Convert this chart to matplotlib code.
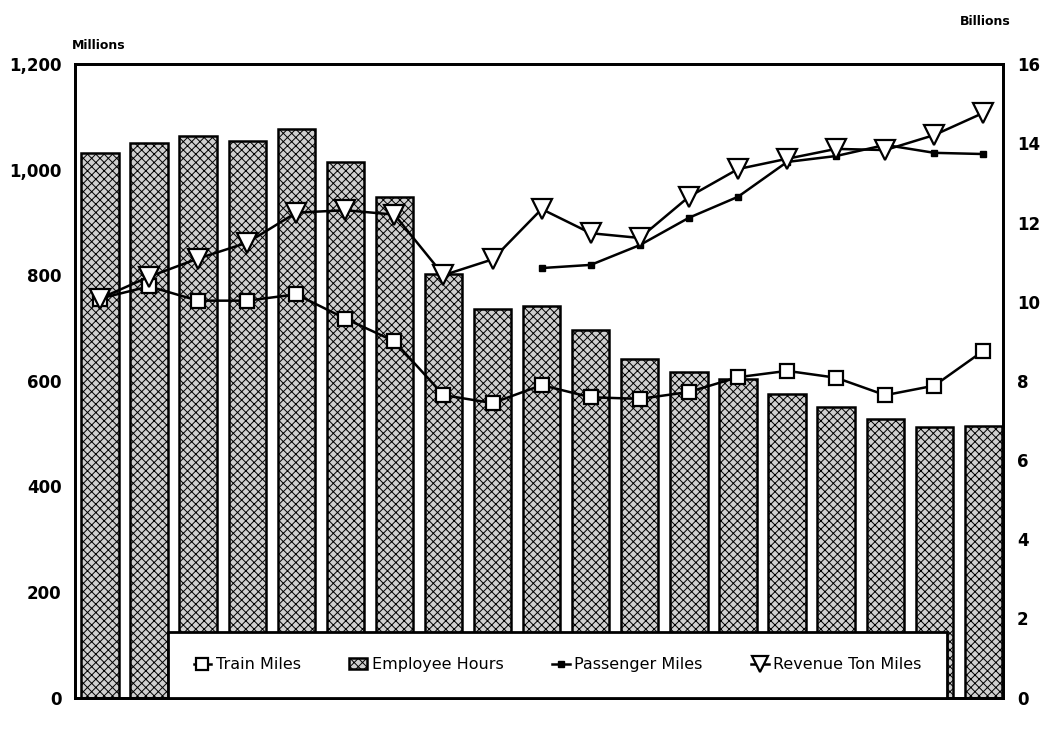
import numpy as np
import matplotlib
matplotlib.use("Agg")
import matplotlib.pyplot as plt
from matplotlib.ticker import FuncFormatter

# values, one per year (19 years, no year labels shown)
employee_hours = [1032, 1051, 1063, 1055, 1078, 1014, 949, 802, 736, 742,
                  696, 641, 617, 604, 575, 551, 527, 513, 515]            # millions
train_miles = [756, 779, 752, 752, 764, 718, 675, 573, 558, 592,
               569, 566, 579, 607, 619, 606, 573, 591, 657]               # millions
revenue_ton_miles = [10.08, 10.63, 11.09, 11.49, 12.25, 12.31, 12.20, 10.67, 11.07, 12.34,
                     11.73, 11.61, 12.65, 13.35, 13.61, 13.86, 13.83, 14.21, 14.77]  # billions
passenger_miles = [np.nan] * 9 + [10.85, 10.93, 11.43, 12.12, 12.65,
                                  13.53, 13.68, 13.96, 13.76, 13.73]      # billions

left_ticks = [0, 200, 400, 600, 800, 1000, 1200]
right_ticks = [0, 2, 4, 6, 8, 10, 12, 14, 16]

plt.rcParams['font.family'] = ['DejaVu Sans']
plt.rcParams['hatch.linewidth'] = 0.7

x = np.arange(len(employee_hours))

fig = plt.figure(figsize=(10.47, 7.29), dpi=100)
ax = fig.add_axes([0.072, 0.043, 0.886, 0.869])
ax2 = ax.twinx()

bars = ax.bar(x, employee_hours, width=0.76, facecolor='#cfcfcf', edgecolor='black',
              hatch='xxxx', linewidth=1.8, label='Employee Hours', zorder=2)
train, = ax.plot(x, train_miles, color='black', lw=1.8, marker='s', ms=10,
                 mfc='white', mec='black', mew=1.6, label='Train Miles', zorder=3)

passenger, = ax2.plot(x, passenger_miles, color='black', lw=1.8, marker='s', ms=5,
                      mfc='black', mec='black', label='Passenger Miles', zorder=3)
revenue, = ax2.plot(x, revenue_ton_miles, color='black', lw=1.8, marker='v', ms=15,
                    mfc='white', mec='black', mew=1.6, label='Revenue Ton Miles', zorder=4)

ax.set_xlim(-0.5, 18.4)
ax.set_ylim(0, 1200)
ax2.set_ylim(0, 16)
ax.set_xticks([])
ax.set_yticks(left_ticks)
ax2.set_yticks(right_ticks)
ax.yaxis.set_major_formatter(FuncFormatter(lambda v, p: '{:,.0f}'.format(v)))

for a in (ax, ax2):
    a.tick_params(axis='y', length=0, pad=10, labelsize=12)
    for lab in a.get_yticklabels():
        lab.set_fontweight('bold')
    for s in a.spines.values():
        s.set_linewidth(2)

fig.text(0.069, 0.928, 'Millions', fontsize=9, fontweight='bold', ha='left', va='bottom')
fig.text(0.965, 0.962, 'Billions', fontsize=9, fontweight='bold', ha='right', va='bottom')

leg = ax2.legend([train, bars, passenger, revenue],
                 ['Train Miles', 'Employee Hours', 'Passenger Miles', 'Revenue Ton Miles'],
                 loc='lower left', bbox_to_anchor=(0.10, 0.0, 0.84, 0.105), mode='expand',
                 ncol=4, fontsize=11.5, handlelength=1.1, handletextpad=0.3,
                 columnspacing=0.8, borderaxespad=0, borderpad=1.6, fancybox=False,
                 framealpha=1, markerscale=0.8)
leg.get_frame().set_edgecolor('black')
leg.get_frame().set_linewidth(2)

fig.savefig('out.png', dpi=100)
